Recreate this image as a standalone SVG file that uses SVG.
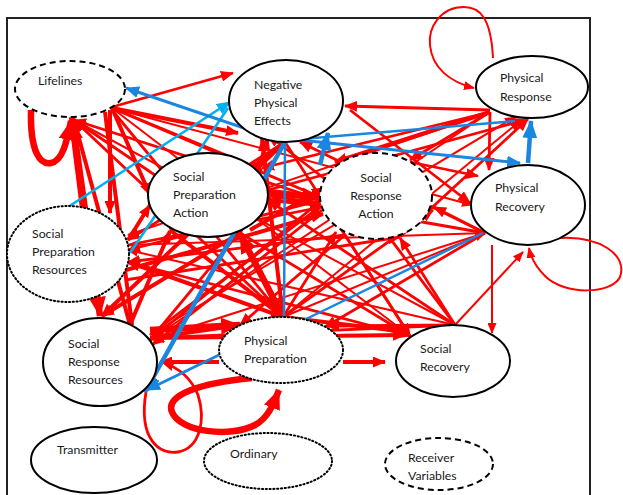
<svg xmlns="http://www.w3.org/2000/svg" width="623" height="495" viewBox="0 0 623 495">
<style>
text{font-family:Lato,"Liberation Sans",sans-serif;font-size:12.3px;fill:#1a1a1a}
.n{fill:#fff;stroke:#000;stroke-width:2}
.dash{stroke-dasharray:6 4}
.dot{stroke-dasharray:1.2 2.6;stroke-linecap:round;stroke-width:2}
.r,.r2,.r4,.r6,.rl{stroke:#f00;fill:none}
.r{stroke-width:2.8;marker-end:url(#mr)}
.r2{stroke-width:2;marker-end:url(#ms)}
.r4{stroke-width:4;marker-end:url(#mr)}
.r6{stroke-width:6.5;marker-end:url(#mL)}
.b{stroke:#1a86e0;fill:none;stroke-width:3;marker-end:url(#mb)}
.b4{stroke:#1a86e0;fill:none;stroke-width:4.5;marker-end:url(#mbL)}
.bn{stroke:#1a86e0;fill:none;stroke-width:2.5}
.lb{stroke:#00b0f0;fill:none;stroke-width:2.6}
</style>
<defs>
<marker id="mr" viewBox="0 0 13 11" markerWidth="13" markerHeight="11" refX="12" refY="5.5" orient="auto" markerUnits="userSpaceOnUse"><path d="M0,0L13,5.5L0,11z" fill="#f00"/></marker>
<marker id="ms" viewBox="0 0 11 9" markerWidth="11" markerHeight="9" refX="10" refY="4.5" orient="auto" markerUnits="userSpaceOnUse"><path d="M0,0L11,4.5L0,9z" fill="#f00"/></marker>
<marker id="mL" viewBox="0 0 20 17" markerWidth="20" markerHeight="17" refX="19" refY="8.5" orient="auto" markerUnits="userSpaceOnUse"><path d="M0,0L20,8.5L0,17z" fill="#f00"/></marker>
<marker id="mb" viewBox="0 0 14 12" markerWidth="14" markerHeight="12" refX="13" refY="6" orient="auto" markerUnits="userSpaceOnUse"><path d="M0,0L14,6L0,12z" fill="#1a86e0"/></marker>
<marker id="mbL" viewBox="0 0 18 15" markerWidth="18" markerHeight="15" refX="17" refY="7.5" orient="auto" markerUnits="userSpaceOnUse"><path d="M0,0L18,7.5L0,15z" fill="#1a86e0"/></marker>
<marker id="ml" viewBox="0 0 14 12" markerWidth="14" markerHeight="12" refX="13" refY="6" orient="auto" markerUnits="userSpaceOnUse"><path d="M0,0L14,6L0,12z" fill="#00b0f0"/></marker>
</defs>
<rect x="0" y="0" width="623" height="495" fill="#fff"/>
<rect x="7" y="18" width="583" height="490" fill="none" stroke="#222" stroke-width="2"/>
<g id="connectors">
<line class="r" x1="112" y1="107" x2="233" y2="73"/>
<line class="r4" x1="112" y1="108" x2="238" y2="133"/>
<line class="r" x1="112" y1="108" x2="322" y2="198"/>
<line class="r4" x1="112" y1="108" x2="150" y2="195"/>
<line class="r4" x1="110" y1="110" x2="110" y2="213"/>
<line class="r" x1="112" y1="110" x2="283" y2="317"/>
<line class="r4" x1="105" y1="112" x2="132" y2="325"/>
<line class="r2" x1="112" y1="108" x2="410" y2="336"/>
<line class="r2" x1="112" y1="108" x2="472" y2="205"/>
<line class="r" x1="112" y1="108" x2="262" y2="170"/>
<line class="r6" x1="83" y1="207" x2="72" y2="120"/>
<line class="r4" x1="130" y1="325" x2="74" y2="120"/>
<line class="r" x1="283" y1="317" x2="74" y2="120"/>
<line class="r" x1="322" y1="200" x2="74" y2="120"/>
<line class="r" x1="240" y1="233" x2="74" y2="120"/>
<line class="r2" x1="455" y1="325" x2="74" y2="120"/>
<line class="r6" x1="72" y1="117" x2="100" y2="316"/>
<line class="r" x1="490" y1="110" x2="345" y2="106"/>
<line class="r" x1="350" y1="110" x2="470" y2="203"/>
<line class="r4" x1="285" y1="142" x2="102" y2="316"/>
<line class="r" x1="285" y1="142" x2="128" y2="240"/>
<line class="r" x1="285" y1="142" x2="410" y2="336"/>
<line class="r4" x1="285" y1="142" x2="170" y2="230"/>
<line class="r" x1="485" y1="233" x2="300" y2="142"/>
<line class="r" x1="400" y1="237" x2="268" y2="135"/>
<line class="r4" x1="283" y1="317" x2="262" y2="139"/>
<line class="r4" x1="240" y1="233" x2="268" y2="137"/>
<line class="r" x1="490" y1="112" x2="489" y2="170"/>
<line class="r" x1="490" y1="112" x2="410" y2="160"/>
<line class="r4" x1="490" y1="112" x2="335" y2="162"/>
<line class="r" x1="490" y1="112" x2="262" y2="168"/>
<line class="r2" x1="490" y1="112" x2="128" y2="235"/>
<line class="r" x1="400" y1="237" x2="528" y2="119"/>
<line class="r" x1="268" y1="190" x2="525" y2="120"/>
<line class="r2" x1="283" y1="317" x2="520" y2="121"/>
<line class="r2" x1="490" y1="112" x2="150" y2="340"/>
<line class="r2" x1="150" y1="335" x2="515" y2="117"/>
<line class="r" x1="485" y1="233" x2="434" y2="207"/>
<line class="r" x1="410" y1="162" x2="478" y2="176"/>
<line class="r" x1="485" y1="233" x2="268" y2="195"/>
<line class="r" x1="485" y1="233" x2="325" y2="327"/>
<line class="r2" x1="485" y1="233" x2="150" y2="340"/>
<line class="r2" x1="485" y1="233" x2="128" y2="245"/>
<line class="r2" x1="492" y1="245" x2="492" y2="333"/>
<line class="r2" x1="455" y1="325" x2="523" y2="252"/>
<line class="r" x1="322" y1="200" x2="150" y2="340"/>
<line class="r" x1="322" y1="200" x2="128" y2="250"/>
<line class="r" x1="345" y1="235" x2="410" y2="336"/>
<line class="r" x1="455" y1="325" x2="400" y2="238"/>
<line class="r6" x1="268" y1="192" x2="321" y2="198"/>
<line class="r4" x1="322" y1="205" x2="269" y2="200"/>
<line class="r" x1="283" y1="317" x2="336" y2="232"/>
<line class="r" x1="345" y1="235" x2="240" y2="325"/>
<line class="r" x1="240" y1="233" x2="410" y2="336"/>
<line class="r4" x1="170" y1="230" x2="283" y2="317"/>
<line class="r6" x1="283" y1="317" x2="240" y2="234"/>
<line class="r4" x1="240" y1="233" x2="102" y2="316"/>
<line class="r4" x1="130" y1="325" x2="170" y2="231"/>
<line class="r4" x1="128" y1="240" x2="150" y2="205"/>
<line class="r" x1="128" y1="262" x2="410" y2="336"/>
<line class="r4" x1="128" y1="262" x2="283" y2="317"/>
<line class="r" x1="125" y1="280" x2="400" y2="237"/>
<line class="r" x1="128" y1="245" x2="322" y2="207"/>
<line class="r4" x1="126" y1="270" x2="323" y2="214"/>
<line class="r4" x1="250" y1="230" x2="324" y2="188"/>
<line class="r6" x1="150" y1="330" x2="240" y2="325"/>
<line class="r4" x1="150" y1="338" x2="405" y2="335"/>
<line class="r4" x1="240" y1="325" x2="152" y2="338"/>
<line class="r4" x1="219" y1="362" x2="160" y2="362"/>
<line class="r" x1="150" y1="340" x2="268" y2="198"/>
<line class="r" x1="150" y1="335" x2="322" y2="205"/>
<line class="r" x1="283" y1="317" x2="128" y2="262"/>
<line class="r" x1="283" y1="317" x2="433" y2="210"/>
<line class="r4" x1="283" y1="317" x2="407" y2="332"/>
<line class="r" x1="455" y1="325" x2="327" y2="326"/>
<line class="r4" x1="343" y1="362" x2="385" y2="362"/>
<line class="r2" x1="283" y1="317" x2="485" y2="233"/>
<line class="r" x1="455" y1="325" x2="152" y2="338"/>
<line class="r2" x1="455" y1="325" x2="128" y2="250"/>
<line class="r" x1="455" y1="325" x2="268" y2="200"/>
<line class="r" x1="455" y1="325" x2="335" y2="165"/>
<line class="r" x1="345" y1="235" x2="128" y2="262"/>
<line class="r" x1="322" y1="210" x2="152" y2="345"/>
<path class="r6" d="M31,110 C30,152 40,165 51,163 C63,161 67,140 71,121"/>
<path class="r2" stroke-width="2.5" d="M493,58 C491,18 480,7 464,7 C440,7 428,28 430,45 C432,68 450,82 474,88"/>
<path class="r2" stroke-width="2.5" d="M560,238 C600,236 628,255 620,277 C612,294 565,296 545,276 C536,267 531,258 529,248"/>
<path class="r" stroke-width="3.5" d="M146,392 C138,440 160,455 178,452 C200,448 206,420 198,395 C192,380 180,368 162,362"/>
<path class="r6" stroke-width="7" d="M252,378 C200,383 165,395 172,412 C180,432 230,438 255,425 C268,418 273,405 279,390"/>
<line class="lb" x1="68" y1="207" x2="230" y2="102" marker-end="url(#ml)"/>
<line class="lb" x1="130" y1="253" x2="228" y2="108"/>
<line class="b" x1="285" y1="142" x2="126" y2="88"/>
<line class="b4" x1="285" y1="142" x2="145" y2="392"/>
<line class="b" stroke-width="2.5" x1="219" y1="355" x2="147" y2="390"/>
<line class="bn" x1="284" y1="318" x2="285" y2="144"/>
<line class="b" stroke-width="3.5" x1="300" y1="140" x2="520" y2="163"/>
<line class="bn" x1="290" y1="140" x2="515" y2="121"/>
<line class="b4" x1="528" y1="163" x2="531" y2="121"/>
<line class="b4" stroke-width="4" x1="320" y1="165" x2="328" y2="133"/>
<line class="bn" x1="483" y1="233" x2="300" y2="322"/>
</g>
<g id="lifelines"><ellipse class="n dash" cx="70" cy="89" rx="55" ry="28"/><text x="38" y="85">Lifelines</text></g>
<g id="negative-physical-effects"><ellipse class="n" cx="286" cy="101" rx="57" ry="41"/><text x="254" y="89">Negative</text><text x="254" y="107">Physical</text><text x="254" y="125">Effects</text></g>
<g id="physical-response"><ellipse class="n" cx="532" cy="87" rx="56" ry="31"/><text x="500" y="82">Physical</text><text x="500" y="101">Response</text></g>
<g id="physical-recovery"><ellipse class="n" cx="528" cy="205" rx="57" ry="40"/><text x="495" y="192">Physical</text><text x="495" y="211">Recovery</text></g>
<g id="social-response-action"><ellipse class="n dash" cx="376" cy="196" rx="56" ry="43"/><text x="376" y="182" text-anchor="middle">Social</text><text x="376" y="200" text-anchor="middle">Response</text><text x="376" y="218" text-anchor="middle">Action</text></g>
<g id="social-preparation-action"><ellipse class="n" cx="208" cy="195" rx="60" ry="42"/><text x="173" y="181">Social</text><text x="173" y="199">Preparation</text><text x="173" y="217">Action</text></g>
<g id="social-preparation-resources"><ellipse class="n dot" cx="68" cy="254" rx="61" ry="48"/><text x="32" y="238">Social</text><text x="32" y="256">Preparation</text><text x="32" y="274">Resources</text></g>
<g id="social-response-resources"><ellipse class="n" cx="100" cy="362" rx="57" ry="44"/><text x="68" y="348">Social</text><text x="68" y="366">Response</text><text x="68" y="384">Resources</text></g>
<g id="physical-preparation"><ellipse class="n dot" cx="281" cy="350" rx="62" ry="33"/><text x="244" y="345">Physical</text><text x="244" y="363">Preparation</text></g>
<g id="social-recovery"><ellipse class="n" cx="453" cy="361" rx="57" ry="36"/><text x="420" y="353">Social</text><text x="420" y="371">Recovery</text></g>
<g id="transmitter"><ellipse class="n" cx="94" cy="460" rx="63" ry="33"/><text x="57" y="454">Transmitter</text></g>
<g id="ordinary"><ellipse class="n dot" cx="268" cy="461" rx="64" ry="28"/><text x="230" y="458">Ordinary</text></g>
<g id="receiver-variables"><ellipse class="n dash" cx="439" cy="464" rx="54" ry="26"/><text x="408" y="462">Receiver</text><text x="408" y="480">Variables</text></g>
</svg>
